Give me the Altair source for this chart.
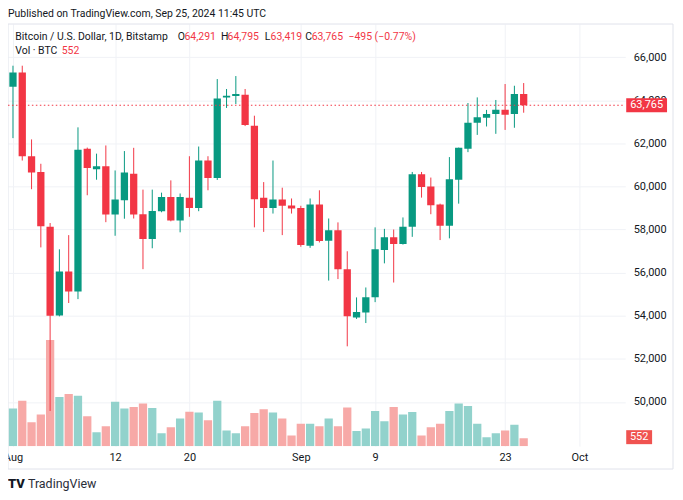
import altair as alt
import pandas as pd

# ---------------- data ----------------
dates = pd.date_range("2024-08-01", "2024-09-25", freq="D").strftime("%Y-%m-%d").tolist()

opens = [64620, 65280, 61400, 60670, 58130, 54010, 56050, 55120, 61750, 60800,
         60940, 58700, 59360, 60590, 58710, 57560, 58850, 59510, 58420, 59470,
         59000, 61200, 60390, 64130, 64190, 64250, 62820, 59470, 59000, 59390,
         59110, 59000, 57250, 59160, 57480, 57970, 56160, 53920, 54150, 54860,
         57050, 57640, 57330, 58130, 60560, 60000, 59160, 58170, 60310, 61750,
         62950, 63180, 63360, 63560, 63360, 64291]
highs = [65600, 65600, 62180, 61050, 58300, 57080, 57740, 62740, 61800, 61520,
         61900, 60740, 61640, 61790, 59850, 59850, 59710, 60280, 59670, 61400,
         61850, 61400, 64980, 64520, 65120, 64520, 63280, 60200, 61200, 59940,
         59440, 59100, 59440, 59820, 58510, 58330, 56990, 54850, 55310, 58100,
         58030, 58000, 58560, 60670, 60670, 60410, 59200, 61360, 61800, 63870,
         64130, 63550, 64010, 64750, 64670, 64795]
lows = [62240, 61200, 59870, 57170, 49580, 53970, 54590, 54770, 59590, 60310,
        58340, 57710, 58500, 58510, 56160, 57130, 58800, 58380, 57870, 58590,
        58850, 59820, 60300, 63640, 63820, 62800, 58100, 57890, 58740, 57740,
        58740, 57200, 57150, 57400, 55630, 55700, 52580, 53850, 53660, 54630,
        56430, 55540, 57300, 57660, 59480, 58710, 57510, 57590, 59200, 61590,
        62390, 62780, 62440, 62620, 62720, 63419]
closes = [65280, 61400, 60650, 58150, 54000, 56050, 55120, 61700, 60850, 60940,
          58700, 59390, 60640, 58700, 57560, 58860, 59510, 58420, 59510, 59000,
          61200, 60390, 64080, 64210, 64290, 62850, 59400, 59000, 59390, 59100,
          58970, 57280, 59160, 57470, 57970, 56160, 53970, 54170, 54860, 57080,
          57640, 57330, 58130, 60560, 59970, 59130, 58170, 60330, 61790, 62950,
          63210, 63360, 63560, 63330, 64290, 63765]
volumes = [2600, 3150, 1660, 2190, 7360, 3410, 3620, 3500, 2070, 970,
           1380, 3080, 2600, 2720, 2950, 2650, 900, 1310, 1910, 2390,
           2330, 1790, 3150, 1080, 900, 1380, 2300, 2550, 2330, 1910,
           740, 1550, 1550, 1380, 1910, 1380, 2670, 1040, 1220, 2440,
           1730, 2720, 2190, 2370, 740, 1310, 1550, 2440, 2950, 2790,
           1550, 620, 900, 1080, 1480, 552]

tick_dates = ["2024-08-01", "2024-08-12", "2024-08-20", "2024-09-01",
              "2024-09-09", "2024-09-23", "2024-10-01"]
price_ticks = [50000, 52000, 54000, 56000, 58000, 60000, 62000, 64000, 66000]

last_close = 63765
last_close_label = "63,765"
last_volume = 552
last_volume_label = "552"

header_title = "Bitcoin / U.S. Dollar, 1D, Bitstamp"
header_parts = [("O", "dark"), ("64,291", "red"), ("H", "dark"), ("64,795", "red"),
                ("L", "dark"), ("63,419", "red"), ("C", "dark"), ("63,765", "red"),
                ("\u2212495 (\u22120.77%)", "red")]
header_x = [170.6, 177.3, 214, 220.5, 257.8, 263.8, 298.5, 305, 342]

# ---------------- style ----------------
UP, DOWN = "#089981", "#F23645"
UP_VOL, DOWN_VOL = "#92D2CC", "#F7A9A7"
TXT = "#131722"
GRID = "#F0F2F6"
FONT = "Roboto"
W, H = 620, 424

df = pd.DataFrame({"date": dates, "open": opens, "high": highs, "low": lows,
                   "close": closes, "volume": volumes})


def ms(s):
    return int(pd.Timestamp(s, tz="UTC").value // 10**6)


x_scale = alt.Scale(type="utc", domain=[ms("2024-08-01 00:00"), ms("2024-10-05 09:36")], nice=False)
x_axis = alt.Axis(values=[ms(d) for d in tick_dates], title=None, grid=True, gridColor=GRID,
                  ticks=False, tickSize=0, domain=False, labelPadding=11, labelBaseline="middle",
                  labelFlush=False, labelOverlap=False, labelColor=TXT, labelFontSize=11,
                  labelFont=FONT,
                  labelExpr="utcdate(datum.value) == 1 ? utcFormat(datum.value, '%b') : '' + utcdate(datum.value)")
X = alt.X("date:T", scale=x_scale, axis=x_axis)

price_scale = alt.Scale(domain=[47949, 67534], nice=False, zero=False)
price_axis = alt.Axis(orient="right", values=price_ticks, format=",d", title=None, grid=True,
                      gridColor=GRID, ticks=False, tickSize=0, domain=False, labelPadding=8,
                      labelColor=TXT, labelFontSize=11, labelFont=FONT)
vol_scale = alt.Scale(domain=[0, 29256], nice=False, zero=True)

updown = alt.condition("datum.close >= datum.open", alt.value(UP), alt.value(DOWN))
updown_vol = alt.condition("datum.close >= datum.open", alt.value(UP_VOL), alt.value(DOWN_VOL))

base = alt.Chart(df)

vol = base.mark_bar(size=8.3, clip=True).encode(
    x=X, y=alt.Y("volume:Q", scale=vol_scale, axis=None), color=updown_vol)

one_vol = pd.DataFrame({"v": [last_volume], "t": [last_volume_label]})
vol_box = alt.Chart(one_vol).mark_point(
    shape="M-1,-0.54H1V0.54H-1Z", filled=True, size=676, opacity=1, color="#F05350"
).encode(x=alt.value(634), y=alt.Y("v:Q", scale=vol_scale, axis=None), yOffset=alt.value(-1))
vol_txt = alt.Chart(one_vol).mark_text(color="white", fontSize=11, font=FONT).encode(
    x=alt.value(634), y=alt.Y("v:Q", scale=vol_scale, axis=None), yOffset=alt.value(-1), text="t:N")

wick = base.mark_rule(strokeWidth=1, clip=True).encode(
    x=X, y=alt.Y("low:Q", scale=price_scale, axis=price_axis), y2="high:Q", color=updown)
body = base.mark_bar(size=7.3, clip=True).encode(
    x=X, y=alt.Y("open:Q", scale=price_scale, axis=price_axis), y2="close:Q", color=updown)

one_px = pd.DataFrame({"p": [last_close], "t": [last_close_label]})
last_line = alt.Chart(one_px).mark_rule(color=DOWN, strokeDash=[1.5, 2.5], strokeWidth=1).encode(
    x=alt.value(0), x2=alt.value(W), y=alt.Y("p:Q", scale=price_scale, axis=price_axis))
last_box = alt.Chart(one_px).mark_point(
    shape="M-1,-0.34H1V0.34H-1Z", filled=True, size=1681, opacity=1, color=DOWN
).encode(x=alt.value(641.5), y=alt.Y("p:Q", scale=price_scale, axis=price_axis))
last_txt = alt.Chart(one_px).mark_text(color="white", fontSize=11, font=FONT).encode(
    x=alt.value(641.5), y=alt.Y("p:Q", scale=price_scale, axis=price_axis), text="t:N")

one = pd.DataFrame({"a": [0]})
frame = alt.Chart(one).mark_rect(filled=False, stroke="#E0E3EB", strokeWidth=1).encode(
    x=alt.value(0), x2=alt.value(668), y=alt.value(0), y2=alt.value(447))


def label(text, x, y, color=TXT, size=10.5, weight="normal"):
    return alt.Chart(pd.DataFrame({"t": [text]})).mark_text(
        align="left", baseline="middle", fontSize=size, font=FONT, color=color, fontWeight=weight
    ).encode(x=alt.value(x), y=alt.value(y), text="t:N")


texts = [label("Published on TradingView.com, Sep 25, 2024 11:45 UTC", 0, -10),
         label(header_title, 7.3, 13),
         label("Vol \u00b7 BTC", 7.3, 27),
         label(last_volume_label, 54, 27, color=DOWN),
         label("TV", 0, 462, size=13, weight=900),
         label("TradingView", 20, 462, color="#2A2E39", size=12.5)]
for (t, c), xx in zip(header_parts, header_x):
    texts.append(label(t, xx, 13, color=DOWN if c == "red" else TXT))

price_layer = alt.layer(wick, body, last_line, last_box, last_txt)
vol_layer = alt.layer(vol, vol_box, vol_txt)

chart = alt.layer(frame, vol_layer, price_layer, *texts).resolve_scale(
    y="independent"
).properties(
    width=W, height=H,
    autosize=alt.AutoSizeParams(type="none"),
    padding={"left": 0, "top": 15, "right": 50, "bottom": 50},
    background="white",
).configure_view(stroke=None)

chart.save("out.html", embed_options={"renderer": "svg", "actions": False})
